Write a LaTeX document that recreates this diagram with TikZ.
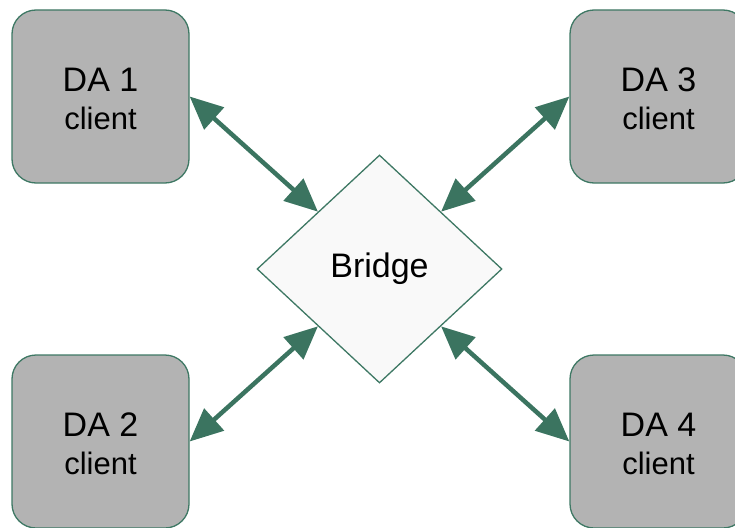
\documentclass[tikz,border=0pt]{standalone}
\usepackage{fontspec}
\setmainfont{Liberation Sans}
\usetikzlibrary{arrows.meta,shapes.geometric}

\definecolor{edgegreen}{HTML}{3E7864}
\definecolor{arrowgreen}{HTML}{3B7460}
\definecolor{boxgray}{HTML}{B3B3B3}
\definecolor{bridgefill}{HTML}{F9F9F9}

\tikzset{
  clientbox/.style={draw=edgegreen, fill=boxgray, line width=1.3pt,
    rounded corners=24pt, minimum width=177pt, minimum height=173pt,
    inner sep=0pt, align=center, text=black,
    font=\fontsize{34}{38}\selectfont},
  bridgenode/.style={shape=diamond, draw=edgegreen, fill=bridgefill,
    line width=1.3pt, minimum width=245pt, minimum height=228pt,
    inner sep=0pt, font=\fontsize{34}{40}\selectfont},
  link/.style={draw=arrowgreen, line width=4.5pt,
    {Triangle[length=33pt,width=29pt]}-{Triangle[length=33pt,width=29pt]}}
}

\begin{document}
\begin{tikzpicture}[x=1pt, y=-1pt]
  \useasboundingbox (0,0) rectangle (735,527);

  % central bridge
  \node[bridgenode] (bridge) at (379.5,269) {Bridge};

  % the four clients
  \node[clientbox] (da1) at (100.5,96.5)  {\rule{0pt}{29pt}DA 1\\{\fontsize{31}{38}\selectfont client}};
  \node[clientbox] (da3) at (658.5,96.5)  {\rule{0pt}{29pt}DA 3\\{\fontsize{31}{38}\selectfont client}};
  \node[clientbox] (da2) at (100.5,441.5) {\rule{0pt}{29pt}DA 2\\{\fontsize{31}{38}\selectfont client}};
  \node[clientbox] (da4) at (658.5,441.5) {\rule{0pt}{29pt}DA 4\\{\fontsize{31}{38}\selectfont client}};

  % two-way links
  \draw[link] (da1.east) -- (bridge.north west);
  \draw[link] (da3.west) -- (bridge.north east);
  \draw[link] (da2.east) -- (bridge.south west);
  \draw[link] (da4.west) -- (bridge.south east);
\end{tikzpicture}
\end{document}
